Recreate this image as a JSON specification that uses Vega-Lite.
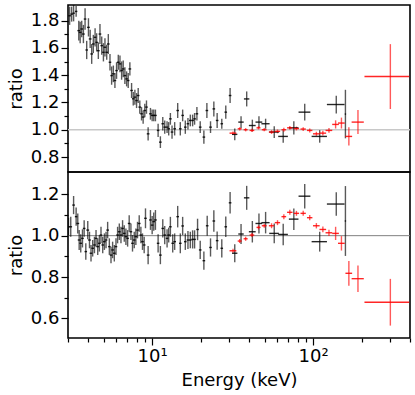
{
"$schema": "https://vega.github.io/schema/vega-lite/v6.json",
"padding": {"left": 6, "top": 4, "right": 4, "bottom": 4},
"config": {
  "font": "DejaVu Sans",
  "view": {"stroke": "#000000", "strokeWidth": 1.6},
  "axis": {"domain": false, "grid": false, "tickColor": "#000000", "labelColor": "#000000", "titleColor": "#000000", "labelFontSize": 18, "titleFontSize": 18, "titleFontWeight": "normal", "labelFont": "DejaVu Sans", "titleFont": "DejaVu Sans", "tickWidth": 1.2, "labelOverlap": false}
},
"datasets": {
"pts": [
{"p":"t","s":"k","e":3.07,"de":0.06,"r":1.836,"dr":0.067},
{"p":"t","s":"k","e":3.16,"de":0.06,"r":1.848,"dr":0.055},
{"p":"t","s":"k","e":3.25,"de":0.06,"r":1.855,"dr":0.06},
{"p":"t","s":"k","e":3.37,"de":0.06,"r":1.868,"dr":0.04},
{"p":"t","s":"k","e":3.50,"de":0.07,"r":1.727,"dr":0.073},
{"p":"t","s":"k","e":3.57,"de":0.07,"r":1.714,"dr":0.079},
{"p":"t","s":"k","e":3.65,"de":0.07,"r":1.739,"dr":0.061},
{"p":"t","s":"k","e":3.74,"de":0.07,"r":1.702,"dr":0.067},
{"p":"t","s":"k","e":3.83,"de":0.07,"r":1.812,"dr":0.079},
{"p":"t","s":"k","e":3.92,"de":0.07,"r":1.585,"dr":0.067},
{"p":"t","s":"k","e":4.02,"de":0.08,"r":1.751,"dr":0.067},
{"p":"t","s":"k","e":4.12,"de":0.08,"r":1.666,"dr":0.067},
{"p":"t","s":"k","e":4.21,"de":0.08,"r":1.556,"dr":0.073},
{"p":"t","s":"k","e":4.31,"de":0.08,"r":1.629,"dr":0.067},
{"p":"t","s":"k","e":4.42,"de":0.08,"r":1.678,"dr":0.067},
{"p":"t","s":"k","e":4.52,"de":0.08,"r":1.641,"dr":0.067},
{"p":"t","s":"k","e":4.63,"de":0.09,"r":1.580,"dr":0.061},
{"p":"t","s":"k","e":4.74,"de":0.09,"r":1.702,"dr":0.073},
{"p":"t","s":"k","e":4.86,"de":0.09,"r":1.617,"dr":0.067},
{"p":"t","s":"k","e":4.98,"de":0.09,"r":1.568,"dr":0.067},
{"p":"t","s":"k","e":5.09,"de":0.10,"r":1.605,"dr":0.067},
{"p":"t","s":"k","e":5.22,"de":0.10,"r":1.568,"dr":0.055},
{"p":"t","s":"k","e":5.34,"de":0.10,"r":1.629,"dr":0.073},
{"p":"t","s":"k","e":5.47,"de":0.10,"r":1.495,"dr":0.061},
{"p":"t","s":"k","e":5.60,"de":0.10,"r":1.397,"dr":0.067},
{"p":"t","s":"k","e":5.74,"de":0.11,"r":1.410,"dr":0.061},
{"p":"t","s":"k","e":5.87,"de":0.11,"r":1.361,"dr":0.055},
{"p":"t","s":"k","e":6.01,"de":0.11,"r":1.434,"dr":0.061},
{"p":"t","s":"k","e":6.16,"de":0.12,"r":1.495,"dr":0.055},
{"p":"t","s":"k","e":6.31,"de":0.12,"r":1.483,"dr":0.061},
{"p":"t","s":"k","e":6.46,"de":0.12,"r":1.434,"dr":0.067},
{"p":"t","s":"k","e":6.61,"de":0.12,"r":1.446,"dr":0.061},
{"p":"t","s":"k","e":6.77,"de":0.13,"r":1.397,"dr":0.061},
{"p":"t","s":"k","e":6.94,"de":0.13,"r":1.373,"dr":0.055},
{"p":"t","s":"k","e":7.10,"de":0.13,"r":1.361,"dr":0.055},
{"p":"t","s":"k","e":7.27,"de":0.14,"r":1.446,"dr":0.049},
{"p":"t","s":"k","e":7.45,"de":0.14,"r":1.288,"dr":0.055},
{"p":"t","s":"k","e":7.63,"de":0.14,"r":1.227,"dr":0.049},
{"p":"t","s":"k","e":7.81,"de":0.15,"r":1.239,"dr":0.055},
{"p":"t","s":"k","e":8.00,"de":0.15,"r":1.214,"dr":0.055},
{"p":"t","s":"k","e":8.19,"de":0.15,"r":1.251,"dr":0.055},
{"p":"t","s":"k","e":8.38,"de":0.16,"r":1.166,"dr":0.049},
{"p":"t","s":"k","e":8.59,"de":0.16,"r":1.117,"dr":0.049},
{"p":"t","s":"k","e":8.79,"de":0.17,"r":1.093,"dr":0.049},
{"p":"t","s":"k","e":9.00,"de":0.17,"r":1.141,"dr":0.049},
{"p":"t","s":"k","e":9.22,"de":0.17,"r":1.166,"dr":0.049},
{"p":"t","s":"k","e":9.44,"de":0.18,"r":0.970,"dr":0.049},
{"p":"t","s":"k","e":9.76,"de":0.18,"r":1.117,"dr":0.043},
{"p":"t","s":"k","e":10.0,"de":0.19,"r":1.105,"dr":0.043},
{"p":"t","s":"k","e":10.23,"de":0.19,"r":1.105,"dr":0.043},
{"p":"t","s":"k","e":10.48,"de":0.20,"r":1.105,"dr":0.043},
{"p":"t","s":"k","e":10.89,"de":0.20,"r":0.995,"dr":0.049},
{"p":"t","s":"k","e":11.25,"de":0.21,"r":0.909,"dr":0.043},
{"p":"t","s":"k","e":11.64,"de":0.22,"r":1.044,"dr":0.049},
{"p":"t","s":"k","e":11.97,"de":0.22,"r":1.019,"dr":0.049},
{"p":"t","s":"k","e":12.38,"de":0.23,"r":1.019,"dr":0.043},
{"p":"t","s":"k","e":12.67,"de":0.24,"r":1.007,"dr":0.049},
{"p":"t","s":"k","e":12.98,"de":0.24,"r":1.080,"dr":0.043},
{"p":"t","s":"k","e":13.29,"de":0.25,"r":0.983,"dr":0.049},
{"p":"t","s":"k","e":13.80,"de":0.26,"r":1.007,"dr":0.049},
{"p":"t","s":"k","e":14.41,"de":0.27,"r":1.141,"dr":0.055},
{"p":"t","s":"k","e":14.96,"de":0.28,"r":1.007,"dr":0.049},
{"p":"t","s":"k","e":15.47,"de":0.29,"r":1.105,"dr":0.043},
{"p":"t","s":"k","e":16.07,"de":0.30,"r":1.019,"dr":0.049},
{"p":"t","s":"k","e":16.69,"de":0.31,"r":1.044,"dr":0.043},
{"p":"t","s":"k","e":17.26,"de":0.32,"r":1.068,"dr":0.043},
{"p":"t","s":"k","e":17.84,"de":0.33,"r":1.068,"dr":0.043},
{"p":"t","s":"k","e":18.35,"de":0.34,"r":1.080,"dr":0.043},
{"p":"t","s":"k","e":18.97,"de":0.35,"r":1.117,"dr":0.049},
{"p":"t","s":"k","e":19.89,"de":0.37,"r":1.019,"dr":0.043},
{"p":"t","s":"k","e":20.96,"de":0.39,"r":0.946,"dr":0.049},
{"p":"t","s":"k","e":21.88,"de":0.41,"r":1.141,"dr":0.055},
{"p":"t","s":"k","e":23.05,"de":0.43,"r":1.019,"dr":0.043},
{"p":"t","s":"k","e":24.17,"de":0.45,"r":1.153,"dr":0.055},
{"p":"t","s":"k","e":25.34,"de":0.47,"r":1.068,"dr":0.055},
{"p":"t","s":"k","e":27.08,"de":0.50,"r":1.044,"dr":0.037},
{"p":"t","s":"k","e":28.67,"de":0.53,"r":1.129,"dr":0.049},
{"p":"t","s":"k","e":30.50,"de":0.57,"r":1.251,"dr":0.055},
{"p":"t","s":"k","e":32.6,"de":1.25,"r":0.966,"dr":0.043},
{"p":"t","s":"k","e":35.67,"de":1.38,"r":1.056,"dr":0.043},
{"p":"t","s":"k","e":38.67,"de":1.5,"r":1.226,"dr":0.055},
{"p":"t","s":"k","e":41.93,"de":2.04,"r":1.031,"dr":0.043},
{"p":"t","s":"k","e":46.09,"de":2.24,"r":1.056,"dr":0.043},
{"p":"t","s":"k","e":50.69,"de":2.97,"r":1.044,"dr":0.037},
{"p":"t","s":"k","e":57.35,"de":3.95,"r":0.983,"dr":0.043},
{"p":"t","s":"k","e":65.2,"de":4.5,"r":0.951,"dr":0.046},
{"p":"t","s":"k","e":75.9,"de":5.2,"r":1.014,"dr":0.049},
{"p":"t","s":"k","e":88.7,"de":7.5,"r":1.129,"dr":0.061},
{"p":"t","s":"k","e":109.9,"de":12,"r":0.951,"dr":0.046},
{"p":"t","s":"k","e":139.3,"de":17.5,"r":1.185,"dr":0.065},
{"p":"t","s":"k","e":158.8,"de":1.5,"r":1.115,"dr":0.178},
{"p":"t","s":"r","e":31.8,"de":1.55,"r":0.975,"dr":0.012},
{"p":"t","s":"r","e":35.0,"de":1.0,"r":1.007,"dr":0.012},
{"p":"t","s":"r","e":38.1,"de":1.1,"r":1.000,"dr":0.012},
{"p":"t","s":"r","e":41.7,"de":1.4,"r":0.995,"dr":0.012},
{"p":"t","s":"r","e":45.8,"de":1.3,"r":1.014,"dr":0.012},
{"p":"t","s":"r","e":49.7,"de":1.7,"r":1.000,"dr":0.012},
{"p":"t","s":"r","e":55.2,"de":2.1,"r":0.983,"dr":0.014},
{"p":"t","s":"r","e":60.1,"de":2.3,"r":0.988,"dr":0.014},
{"p":"t","s":"r","e":65.8,"de":2.2,"r":1.000,"dr":0.014},
{"p":"t","s":"r","e":71.7,"de":2.8,"r":1.014,"dr":0.014},
{"p":"t","s":"r","e":78.8,"de":3.0,"r":1.009,"dr":0.014},
{"p":"t","s":"r","e":86.8,"de":3.3,"r":1.005,"dr":0.014},
{"p":"t","s":"r","e":95.3,"de":3.7,"r":0.995,"dr":0.015},
{"p":"t","s":"r","e":104.8,"de":5.0,"r":0.970,"dr":0.015},
{"p":"t","s":"r","e":115.0,"de":5.5,"r":0.975,"dr":0.017},
{"p":"t","s":"r","e":125.5,"de":6.0,"r":0.995,"dr":0.018},
{"p":"t","s":"r","e":138.0,"de":6.6,"r":1.039,"dr":0.03},
{"p":"t","s":"r","e":150.0,"de":7.2,"r":1.049,"dr":0.04},
{"p":"t","s":"r","e":166.8,"de":8.0,"r":0.951,"dr":0.067},
{"p":"t","s":"r","e":190.0,"de":16.5,"r":1.056,"dr":0.088},
{"p":"t","s":"r","e":302.0,"de":93.5,"r":1.390,"dr":0.238},
{"p":"b","s":"k","e":3.02,"de":0.06,"r":1.043,"dr":0.044},
{"p":"b","s":"k","e":3.12,"de":0.06,"r":1.043,"dr":0.048},
{"p":"b","s":"k","e":3.25,"de":0.06,"r":1.148,"dr":0.044},
{"p":"b","s":"k","e":3.37,"de":0.06,"r":1.092,"dr":0.044},
{"p":"b","s":"k","e":3.45,"de":0.07,"r":1.059,"dr":0.048},
{"p":"b","s":"k","e":3.52,"de":0.07,"r":0.979,"dr":0.048},
{"p":"b","s":"k","e":3.60,"de":0.07,"r":0.963,"dr":0.044},
{"p":"b","s":"k","e":3.69,"de":0.07,"r":0.987,"dr":0.044},
{"p":"b","s":"k","e":3.78,"de":0.07,"r":1.035,"dr":0.040},
{"p":"b","s":"k","e":3.87,"de":0.07,"r":0.923,"dr":0.040},
{"p":"b","s":"k","e":3.98,"de":0.08,"r":1.027,"dr":0.044},
{"p":"b","s":"k","e":4.08,"de":0.08,"r":0.979,"dr":0.040},
{"p":"b","s":"k","e":4.17,"de":0.08,"r":0.915,"dr":0.040},
{"p":"b","s":"k","e":4.27,"de":0.08,"r":0.939,"dr":0.040},
{"p":"b","s":"k","e":4.38,"de":0.08,"r":0.955,"dr":0.040},
{"p":"b","s":"k","e":4.48,"de":0.08,"r":0.987,"dr":0.040},
{"p":"b","s":"k","e":4.59,"de":0.09,"r":0.947,"dr":0.040},
{"p":"b","s":"k","e":4.70,"de":0.09,"r":0.963,"dr":0.040},
{"p":"b","s":"k","e":4.81,"de":0.09,"r":1.003,"dr":0.040},
{"p":"b","s":"k","e":4.93,"de":0.09,"r":0.955,"dr":0.040},
{"p":"b","s":"k","e":5.05,"de":0.10,"r":0.971,"dr":0.040},
{"p":"b","s":"k","e":5.17,"de":0.10,"r":0.979,"dr":0.040},
{"p":"b","s":"k","e":5.29,"de":0.10,"r":1.027,"dr":0.040},
{"p":"b","s":"k","e":5.42,"de":0.10,"r":0.947,"dr":0.040},
{"p":"b","s":"k","e":5.55,"de":0.10,"r":0.906,"dr":0.040},
{"p":"b","s":"k","e":5.68,"de":0.11,"r":0.931,"dr":0.040},
{"p":"b","s":"k","e":5.82,"de":0.11,"r":0.915,"dr":0.040},
{"p":"b","s":"k","e":5.96,"de":0.11,"r":0.947,"dr":0.040},
{"p":"b","s":"k","e":6.10,"de":0.12,"r":1.003,"dr":0.040},
{"p":"b","s":"k","e":6.25,"de":0.12,"r":1.019,"dr":0.040},
{"p":"b","s":"k","e":6.40,"de":0.12,"r":1.003,"dr":0.040},
{"p":"b","s":"k","e":6.55,"de":0.12,"r":1.035,"dr":0.040},
{"p":"b","s":"k","e":6.71,"de":0.13,"r":1.011,"dr":0.040},
{"p":"b","s":"k","e":6.87,"de":0.13,"r":0.995,"dr":0.040},
{"p":"b","s":"k","e":7.04,"de":0.13,"r":0.987,"dr":0.040},
{"p":"b","s":"k","e":7.20,"de":0.14,"r":1.059,"dr":0.040},
{"p":"b","s":"k","e":7.38,"de":0.14,"r":1.019,"dr":0.040},
{"p":"b","s":"k","e":7.55,"de":0.14,"r":0.963,"dr":0.040},
{"p":"b","s":"k","e":7.74,"de":0.15,"r":0.979,"dr":0.040},
{"p":"b","s":"k","e":7.92,"de":0.15,"r":0.995,"dr":0.040},
{"p":"b","s":"k","e":8.11,"de":0.15,"r":1.027,"dr":0.040},
{"p":"b","s":"k","e":8.31,"de":0.16,"r":1.059,"dr":0.040},
{"p":"b","s":"k","e":8.51,"de":0.16,"r":1.003,"dr":0.040},
{"p":"b","s":"k","e":8.71,"de":0.17,"r":0.971,"dr":0.040},
{"p":"b","s":"k","e":8.92,"de":0.17,"r":0.955,"dr":0.040},
{"p":"b","s":"k","e":9.09,"de":0.17,"r":1.084,"dr":0.048},
{"p":"b","s":"k","e":9.44,"de":0.18,"r":0.906,"dr":0.044},
{"p":"b","s":"k","e":9.76,"de":0.18,"r":1.076,"dr":0.048},
{"p":"b","s":"k","e":10.0,"de":0.19,"r":1.051,"dr":0.044},
{"p":"b","s":"k","e":10.23,"de":0.19,"r":1.068,"dr":0.044},
{"p":"b","s":"k","e":10.48,"de":0.20,"r":1.076,"dr":0.048},
{"p":"b","s":"k","e":10.89,"de":0.20,"r":0.963,"dr":0.044},
{"p":"b","s":"k","e":11.25,"de":0.21,"r":0.906,"dr":0.044},
{"p":"b","s":"k","e":11.64,"de":0.22,"r":1.035,"dr":0.044},
{"p":"b","s":"k","e":11.97,"de":0.22,"r":1.003,"dr":0.044},
{"p":"b","s":"k","e":12.38,"de":0.23,"r":0.987,"dr":0.044},
{"p":"b","s":"k","e":12.67,"de":0.24,"r":1.003,"dr":0.036},
{"p":"b","s":"k","e":12.98,"de":0.24,"r":1.043,"dr":0.048},
{"p":"b","s":"k","e":13.42,"de":0.25,"r":0.963,"dr":0.044},
{"p":"b","s":"k","e":13.80,"de":0.26,"r":0.971,"dr":0.040},
{"p":"b","s":"k","e":14.41,"de":0.27,"r":1.092,"dr":0.052},
{"p":"b","s":"k","e":14.96,"de":0.28,"r":0.963,"dr":0.048},
{"p":"b","s":"k","e":15.47,"de":0.29,"r":1.047,"dr":0.044},
{"p":"b","s":"k","e":16.07,"de":0.30,"r":0.971,"dr":0.040},
{"p":"b","s":"k","e":16.69,"de":0.31,"r":0.979,"dr":0.044},
{"p":"b","s":"k","e":17.26,"de":0.32,"r":0.979,"dr":0.040},
{"p":"b","s":"k","e":17.84,"de":0.33,"r":0.982,"dr":0.044},
{"p":"b","s":"k","e":18.35,"de":0.34,"r":0.982,"dr":0.044},
{"p":"b","s":"k","e":19.15,"de":0.35,"r":1.030,"dr":0.052},
{"p":"b","s":"k","e":19.89,"de":0.37,"r":0.931,"dr":0.044},
{"p":"b","s":"k","e":20.96,"de":0.39,"r":0.879,"dr":0.044},
{"p":"b","s":"k","e":21.98,"de":0.41,"r":1.048,"dr":0.048},
{"p":"b","s":"k","e":23.05,"de":0.43,"r":0.943,"dr":0.044},
{"p":"b","s":"k","e":24.17,"de":0.45,"r":1.071,"dr":0.052},
{"p":"b","s":"k","e":25.34,"de":0.47,"r":0.976,"dr":0.044},
{"p":"b","s":"k","e":27.08,"de":0.50,"r":0.939,"dr":0.044},
{"p":"b","s":"k","e":28.67,"de":0.53,"r":1.043,"dr":0.050},
{"p":"b","s":"k","e":30.50,"de":0.57,"r":1.159,"dr":0.052},
{"p":"b","s":"k","e":32.6,"de":1.25,"r":0.915,"dr":0.044},
{"p":"b","s":"k","e":35.67,"de":1.38,"r":1.008,"dr":0.048},
{"p":"b","s":"k","e":38.67,"de":1.5,"r":1.183,"dr":0.058},
{"p":"b","s":"k","e":41.93,"de":2.04,"r":1.019,"dr":0.052},
{"p":"b","s":"k","e":46.09,"de":2.24,"r":1.059,"dr":0.048},
{"p":"b","s":"k","e":50.69,"de":2.97,"r":1.063,"dr":0.052},
{"p":"b","s":"k","e":57.35,"de":3.95,"r":1.011,"dr":0.048},
{"p":"b","s":"k","e":65.2,"de":4.5,"r":1.006,"dr":0.052},
{"p":"b","s":"k","e":75.9,"de":5.2,"r":1.080,"dr":0.052},
{"p":"b","s":"k","e":88.7,"de":7.5,"r":1.191,"dr":0.059},
{"p":"b","s":"k","e":109.9,"de":12,"r":0.971,"dr":0.048},
{"p":"b","s":"k","e":139.3,"de":17.5,"r":1.153,"dr":0.057},
{"p":"b","s":"k","e":158.8,"de":1.5,"r":1.071,"dr":0.169},
{"p":"b","s":"r","e":31.8,"de":1.55,"r":0.927,"dr":0.01},
{"p":"b","s":"r","e":35.0,"de":1.0,"r":0.974,"dr":0.01},
{"p":"b","s":"r","e":38.1,"de":1.1,"r":0.985,"dr":0.01},
{"p":"b","s":"r","e":41.7,"de":1.4,"r":1.003,"dr":0.01},
{"p":"b","s":"r","e":45.8,"de":1.3,"r":1.040,"dr":0.01},
{"p":"b","s":"r","e":49.7,"de":1.7,"r":1.048,"dr":0.01},
{"p":"b","s":"r","e":55.2,"de":2.1,"r":1.048,"dr":0.012},
{"p":"b","s":"r","e":60.1,"de":2.3,"r":1.063,"dr":0.012},
{"p":"b","s":"r","e":65.8,"de":2.2,"r":1.092,"dr":0.012},
{"p":"b","s":"r","e":71.7,"de":2.8,"r":1.113,"dr":0.012},
{"p":"b","s":"r","e":78.8,"de":3.0,"r":1.108,"dr":0.012},
{"p":"b","s":"r","e":86.8,"de":3.3,"r":1.108,"dr":0.012},
{"p":"b","s":"r","e":95.3,"de":3.7,"r":1.087,"dr":0.013},
{"p":"b","s":"r","e":104.8,"de":5.0,"r":1.048,"dr":0.013},
{"p":"b","s":"r","e":115.0,"de":5.5,"r":1.030,"dr":0.014},
{"p":"b","s":"r","e":125.5,"de":6.0,"r":1.014,"dr":0.015},
{"p":"b","s":"r","e":138.0,"de":6.6,"r":1.011,"dr":0.032},
{"p":"b","s":"r","e":150.0,"de":7.2,"r":0.963,"dr":0.035},
{"p":"b","s":"r","e":166.8,"de":8.0,"r":0.818,"dr":0.060},
{"p":"b","s":"r","e":190.0,"de":16.5,"r":0.792,"dr":0.064},
{"p":"b","s":"r","e":302.0,"de":93.5,"r":0.678,"dr":0.113}
]
},
"spacing": 0,
"bounds": "flush",
"resolve": {"scale": {"x": "independent", "y": "independent"}},
"vconcat": [
{
  "width": 342, "height": 167,
  "encoding": {
    "y": {"field": "r", "type": "quantitative", "scale": {"domain": [0.69, 1.915], "nice": false, "zero": false},
      "axis": {"title": "ratio", "values": [0.8,0.9,1.0,1.1,1.2,1.3,1.4,1.5,1.6,1.7,1.8],
        "labelExpr": "round(datum.value*10)%2==0 ? format(datum.value,'.1f') : ''",
        "tickSize": {"condition": {"test": "round(datum.value*10)%2==0", "value": 7}, "value": 4},
        "labelPadding": 2, "titlePadding": 5}}
  },
  "layer": [
    {"data": {"values": [{"r": 1}]}, "mark": {"type": "rule", "color": "#c8c8c8", "strokeWidth": 1.5}, "encoding": {}},
    {"data": {"name": "pts"}, "transform": [{"filter": "datum.p=='t'"}],
     "mark": {"type": "errorbar", "thickness": 1.4, "clip": true},
     "encoding": {
       "x": {"field": "e", "type": "quantitative", "scale": {"type": "log", "domain": [3, 400], "nice": false}, "axis": null},
       "yError": {"field": "dr"},
       "color": {"field": "s", "type": "nominal", "scale": {"domain": ["k", "r"], "range": ["#000000", "#ff0000"]}, "legend": null},
       "opacity": {"value": 0.65}}},
    {"data": {"name": "pts"}, "transform": [{"filter": "datum.p=='t'"}],
     "mark": {"type": "errorbar", "thickness": 1.4, "clip": true},
     "encoding": {
       "x": {"field": "e", "type": "quantitative", "scale": {"type": "log", "domain": [3, 400], "nice": false}, "axis": null},
       "xError": {"field": "de"},
       "color": {"field": "s", "type": "nominal", "scale": {"domain": ["k", "r"], "range": ["#000000", "#ff0000"]}, "legend": null},
       "opacity": {"value": 0.85}}}
  ]
},
{
  "width": 342, "height": 166,
  "encoding": {
    "y": {"field": "r", "type": "quantitative", "scale": {"domain": [0.505, 1.308], "nice": false, "zero": false},
      "axis": {"title": "ratio", "values": [0.6,0.7,0.8,0.9,1.0,1.1,1.2],
        "labelExpr": "round(datum.value*10)%2==0 ? format(datum.value,'.1f') : ''",
        "tickSize": {"condition": {"test": "round(datum.value*10)%2==0", "value": 7}, "value": 4},
        "labelPadding": 2, "titlePadding": 5}}
  },
  "layer": [
    {"data": {"values": [{"r": 1}]}, "mark": {"type": "rule", "color": "#808080", "strokeWidth": 1}, "encoding": {}},
    {"data": {"name": "pts"}, "transform": [{"filter": "datum.p=='b'"}],
     "mark": {"type": "errorbar", "thickness": 1.4, "clip": true},
     "encoding": {
       "x": {"field": "e", "type": "quantitative", "scale": {"type": "log", "domain": [3, 400], "nice": false},
         "axis": {"title": "Energy (keV)", "values": [3,4,5,6,7,8,9,10,20,30,40,50,60,70,80,90,100,200,300,400],
           "labelExpr": "datum.value==10 ? '10¹' : (datum.value==100 ? '10²' : '')",
           "tickSize": {"condition": {"test": "datum.value==10 || datum.value==100", "value": 7}, "value": 4},
           "labelPadding": 2, "titlePadding": 6, "labelFlush": false}},
       "yError": {"field": "dr"},
       "color": {"field": "s", "type": "nominal", "scale": {"domain": ["k", "r"], "range": ["#000000", "#ff0000"]}, "legend": null},
       "opacity": {"value": 0.65}}},
    {"data": {"name": "pts"}, "transform": [{"filter": "datum.p=='b'"}],
     "mark": {"type": "errorbar", "thickness": 1.4, "clip": true},
     "encoding": {
       "x": {"field": "e", "type": "quantitative", "scale": {"type": "log", "domain": [3, 400], "nice": false},
         "axis": {"title": "Energy (keV)", "values": [3,4,5,6,7,8,9,10,20,30,40,50,60,70,80,90,100,200,300,400],
           "labelExpr": "datum.value==10 ? '10¹' : (datum.value==100 ? '10²' : '')",
           "tickSize": {"condition": {"test": "datum.value==10 || datum.value==100", "value": 7}, "value": 4},
           "labelPadding": 2, "titlePadding": 6, "labelFlush": false}},
       "xError": {"field": "de"},
       "color": {"field": "s", "type": "nominal", "scale": {"domain": ["k", "r"], "range": ["#000000", "#ff0000"]}, "legend": null},
       "opacity": {"value": 0.85}}}
  ]
}
]
}
